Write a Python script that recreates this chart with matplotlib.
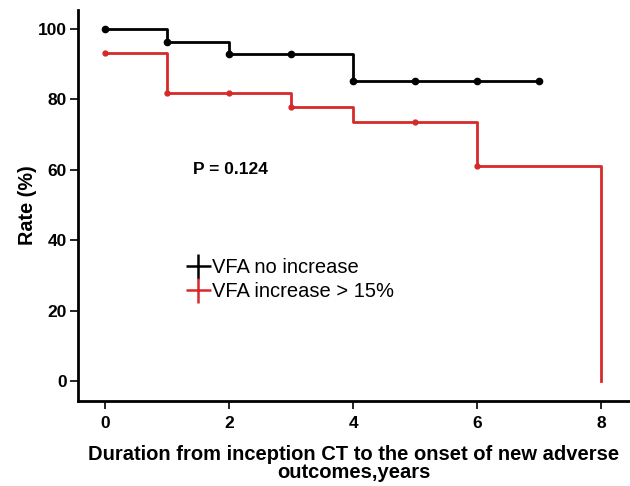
import matplotlib
matplotlib.use("Agg")
import matplotlib.pyplot as plt
from matplotlib.lines import Line2D

plt.rcParams["font.family"] = ["Liberation Sans", "DejaVu Sans"]

# step curves (time in years, rate in %)
black_t = [0, 1, 2, 4, 7]
black_y = [100, 96.4, 92.8, 85.2, 85.2]
black_mark_t = [0, 1, 2, 3, 4, 5, 6, 7]
black_mark_y = [100, 96.4, 92.8, 92.8, 85.2, 85.2, 85.2, 85.2]

red_t = [0, 1, 3, 4, 6, 8, 8]
red_y = [93.2, 81.8, 77.9, 73.5, 61.2, 61.2, 0]
red_mark_t = [0, 1, 2, 3, 5, 6]
red_mark_y = [93.2, 81.8, 81.8, 77.9, 73.5, 61.2]

labels = ["VFA no increase", "VFA increase > 15%"]
p_text = "P = 0.124"
red = "#d62a2a"

fig = plt.figure(figsize=(6.3, 4.86), dpi=100)
ax = fig.add_axes([0.124, 0.175, 0.876, 0.805])

ax.plot(black_t, black_y, drawstyle="steps-post", color="black", lw=2)
ax.plot(black_mark_t, black_mark_y, "o", color="black", ms=4.5)
ax.plot(red_t, red_y, drawstyle="steps-post", color=red, lw=2)
ax.plot(red_mark_t, red_mark_y, "o", color=red, ms=3.5)

ax.set_xlim(-0.44, 8.47)
ax.set_ylim(-5.7, 105.5)
ax.set_xticks([0, 2, 4, 6, 8])
ax.set_yticks([0, 20, 40, 60, 80, 100])
for s in ["top", "right"]:
    ax.spines[s].set_visible(False)
ax.spines["left"].set_linewidth(2)
ax.spines["bottom"].set_linewidth(2)
ax.tick_params(width=1.2, length=6, labelsize=12.5)
ax.tick_params(axis="y", pad=2)
ax.tick_params(axis="x", pad=5)
for t in ax.get_xticklabels() + ax.get_yticklabels():
    t.set_fontweight("bold")

ax.set_ylabel("Rate (%)", fontsize=14.3, fontweight="bold", labelpad=1)
ax.set_xlabel("Duration from inception CT to the onset of new adverse\noutcomes,years",
              fontsize=14.5, fontweight="bold", linespacing=0.9, labelpad=10)

ax.text(1.42, 60, p_text, fontsize=12.5, fontweight="bold", va="center")

handles = [Line2D([], [], color="black", marker="+", ms=18, mew=1.8, ls="none"),
           Line2D([], [], color=red, marker="+", ms=18, mew=1.8, ls="none")]
ax.legend(handles, labels, loc="upper left", bbox_to_anchor=(0.194, 0.365),
          frameon=False, fontsize=14.5, handletextpad=0.05, handlelength=1.3,
          labelspacing=0.25, borderaxespad=0, borderpad=0)

fig.savefig("out.png", dpi=100)
